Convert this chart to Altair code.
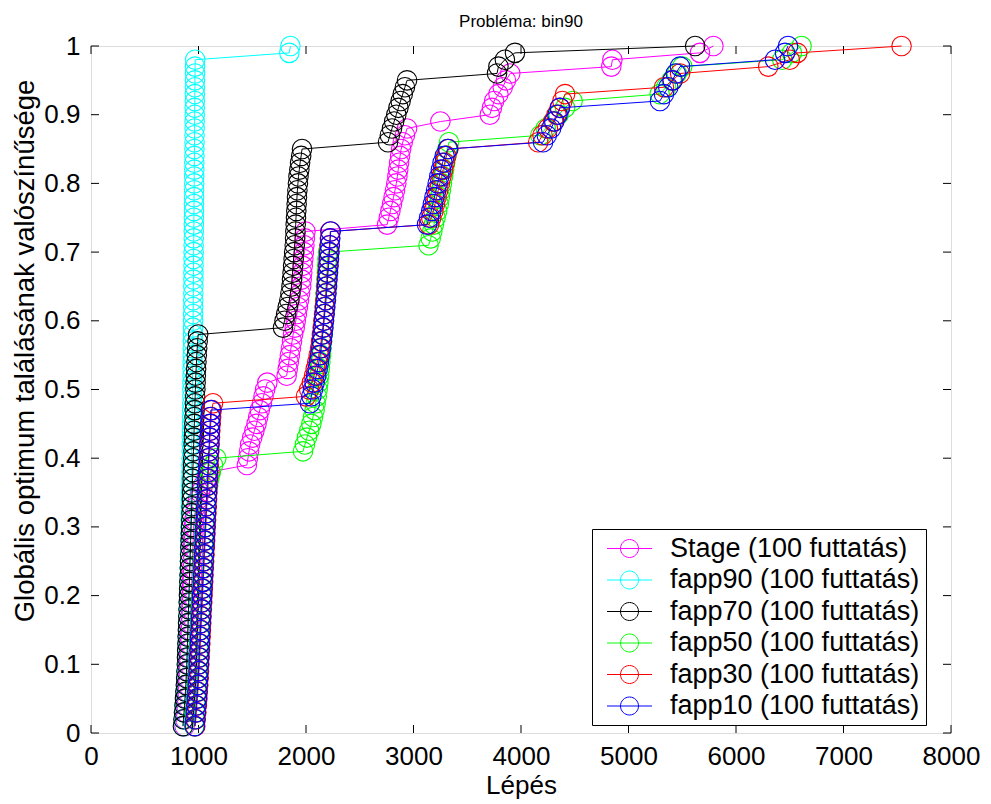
import altair as alt
import pandas as pd

SERIES = [
    "Stage (100 futtatás)",
    "fapp90 (100 futtatás)",
    "fapp70 (100 futtatás)",
    "fapp50 (100 futtatás)",
    "fapp30 (100 futtatás)",
    "fapp10 (100 futtatás)",
]
COLORS = ["#ff00ff", "#00ffff", "#000000", "#00ff00", "#ff0000", "#0000ff"]

# probability levels (100 runs -> 0.01 ... 1.00)
PROB = [round(k / 100, 2) for k in range(1, 101)]

STAGE = [
    870, 875, 880, 885, 890, 893, 896, 900, 903, 906,
    909, 912, 915, 918, 921, 924, 927, 930, 932, 934,
    936, 938, 940, 942, 944, 946, 948, 950, 952, 955,
    960, 968, 980, 995, 1015, 1040, 1075, 1110,
    1450, 1460, 1470, 1480, 1500, 1520, 1540, 1555, 1570, 1590, 1605, 1620, 1640,
    1820, 1830, 1840, 1850, 1860, 1870, 1880, 1895, 1905, 1915, 1925, 1935, 1945,
    1955, 1960, 1965, 1970, 1975, 1980, 1985, 1990, 1995,
    2755, 2770, 2785, 2800, 2815, 2828, 2840, 2850, 2858, 2866, 2875, 2885, 2900,
    2920, 2940,
    3250,
    3710, 3730, 3750, 3790, 3830, 3860, 3900,
    4840, 4850,
    5665, 5790,
]

FAPP90 = [
    860, 865, 870, 874, 878, 882, 885, 888, 891, 894,
    896, 898, 900, 902, 904, 906, 908, 910, 912, 914,
    915, 916, 918, 919, 920, 921, 922, 924, 925, 926,
    927, 928, 929, 930, 931, 932, 933, 934, 935, 936,
    937, 937, 938, 939, 940, 940, 941, 942, 943, 943,
    944, 945, 945, 946, 947, 947, 948, 949, 949, 950,
    950, 951, 951, 952, 952, 953, 953, 954, 954, 955,
    955, 956, 956, 957, 957, 958, 958, 959, 959, 960,
    960, 961, 961, 962, 962, 963, 963, 964, 964, 965,
    965, 966, 966, 967, 967, 968, 968, 969,
    1845, 1855,
]

FAPP70 = [
    855, 860, 865, 870, 874, 878, 882, 885, 888, 891,
    893, 895, 897, 899, 901, 903, 905, 907, 909, 911,
    913, 915, 917, 919, 921, 923, 925, 927, 929, 931,
    933, 935, 937, 939, 941, 943, 945, 947, 949, 951,
    953, 955, 957, 959, 961, 963, 965, 967, 969, 971,
    973, 975, 978, 981, 984, 988, 992, 997,
    1786, 1800, 1815, 1830, 1845, 1855, 1865, 1870, 1875, 1880,
    1885, 1890, 1895, 1898, 1901, 1904, 1907, 1910, 1913, 1916,
    1920, 1925, 1930, 1938, 1945, 1955, 1963,
    2763, 2780, 2800, 2820, 2840, 2860, 2880, 2900, 2920, 2940,
    3777, 3790, 3850, 3944,
    5620,
]

FAPP50 = [
    960, 965, 970, 975, 980, 984, 988, 992, 995, 998,
    1001, 1004, 1007, 1010, 1013, 1016, 1019, 1022, 1025, 1028,
    1031, 1034, 1037, 1040, 1043, 1046, 1049, 1052, 1055, 1058,
    1062, 1066, 1070, 1075, 1080, 1090, 1100, 1115, 1135, 1165,
    1972, 1990, 2009, 2030, 2050, 2065, 2080, 2090, 2100, 2108,
    2115, 2122, 2128, 2134, 2140, 2145, 2150, 2155, 2160, 2165,
    2170, 2174, 2178, 2182, 2186, 2190, 2194, 2197, 2200, 2205,
    3140, 3160, 3175, 3190, 3205, 3220, 3235, 3245, 3255, 3265,
    3275, 3285, 3295, 3305, 3315, 3330,
    4180, 4230, 4300, 4350, 4410, 4480,
    5290, 5350, 5400, 5450, 5500,
    6430, 6520, 6610,
]

FAPP30 = [
    970, 975, 980, 985, 990, 994, 998, 1002, 1005, 1008,
    1011, 1014, 1017, 1020, 1023, 1026, 1029, 1032, 1035, 1038,
    1041, 1044, 1047, 1050, 1053, 1056, 1059, 1062, 1065, 1068,
    1071, 1074, 1077, 1080, 1083, 1086, 1089, 1092, 1095, 1098,
    1101, 1104, 1107, 1110, 1114, 1118, 1124, 1135,
    2000, 2030, 2055, 2075, 2090, 2105, 2118, 2130, 2140, 2148,
    2155, 2162, 2168, 2174, 2180, 2185, 2190, 2195, 2200, 2205,
    2210, 2214, 2218, 2222, 2226,
    3145, 3165, 3185, 3200, 3215, 3230, 3245, 3260, 3275, 3290, 3305, 3325,
    4160, 4200, 4250, 4300, 4330, 4360, 4385, 4410,
    5330, 5410, 5480,
    6300, 6500, 6570, 7540,
]

FAPP10 = [
    965, 970, 975, 980, 985, 989, 993, 997, 1000, 1003,
    1006, 1009, 1012, 1015, 1018, 1021, 1024, 1027, 1030, 1033,
    1036, 1039, 1042, 1045, 1048, 1051, 1054, 1057, 1060, 1063,
    1066, 1069, 1072, 1075, 1078, 1081, 1084, 1087, 1090, 1093,
    1096, 1099, 1102, 1105, 1108, 1111, 1115,
    2037, 2050, 2065, 2080, 2095, 2108, 2120, 2130, 2140, 2148,
    2155, 2162, 2168, 2174, 2180, 2186, 2191, 2196, 2200, 2205,
    2210, 2214, 2218, 2222, 2226, 2230,
    3126, 3145, 3165, 3180, 3195, 3210, 3225, 3240, 3255, 3270, 3290, 3320,
    4205, 4240, 4280, 4310, 4340, 4363,
    5293, 5330, 5370, 5410, 5440, 5479,
    6363, 6456, 6484,
]

X_TICKS = [0, 1000, 2000, 3000, 4000, 5000, 6000, 7000, 8000]
Y_TICKS = [0, 0.1, 0.2, 0.3, 0.4, 0.5, 0.6, 0.7, 0.8, 0.9, 1]

TITLE = "Probléma: bin90"
X_TITLE = "Lépés"
Y_TITLE = "Globális optimum találásának valószínűsége"

FONT = "Liberation Sans"
W, H = 860, 687
TICK_LEN = 8

ALL_X = [STAGE, FAPP90, FAPP70, FAPP50, FAPP30, FAPP10]
rows = []
for name, xs in zip(SERIES, ALL_X):
    for k, (x, p) in enumerate(zip(xs, PROB)):
        rows.append({"series": name, "step": x, "p": p, "idx": k})
df = pd.DataFrame(rows)

xscale = alt.Scale(domain=[0, 8000], nice=False, zero=False)
yscale = alt.Scale(domain=[0, 1], nice=False, zero=False)

xenc = alt.X(
    "step:Q",
    scale=xscale,
    axis=alt.Axis(
        values=X_TICKS, format="d", title=X_TITLE, grid=False, domain=False,
        ticks=False, tickSize=0, labelPadding=10, labelFontSize=26,
        labelFont=FONT, labelColor="black", titleFont=FONT, titleFontSize=26,
        titleFontWeight="normal", titleColor="black", titleBaseline="alphabetic",
        titleY=60, titleX=W / 2, titleAlign="center", labelFlush=False,
    ),
)
yenc = alt.Y(
    "p:Q",
    scale=yscale,
    axis=alt.Axis(
        values=Y_TICKS, format="~g", title=Y_TITLE, grid=False, domain=False,
        ticks=False, tickSize=0, labelPadding=11, labelFontSize=26,
        labelFont=FONT, labelColor="black", titleFont=FONT, titleFontSize=27.5,
        titleFontWeight="normal", titleColor="black", titleBaseline="alphabetic",
        titleX=-58, titleY=H / 2 - 39, titleAlign="center", titleAngle=270,
        labelFlush=False,
    ),
)

SYMBOL = "M-2.5,0H2.5M1,0A1,1,0,1,1,-1,0A1,1,0,1,1,1,0"
legend = alt.Legend(
    title=None, orient="none", legendX=501, legendY=483,
    symbolType=SYMBOL, symbolSize=324, symbolStrokeWidth=1,
    symbolFillColor="transparent", symbolOffset=18,
    labelFont=FONT, labelFontSize=27, labelColor="black", labelOffset=27,
    labelLimit=400, rowPadding=3.5, padding=6,
    strokeColor="black", fillColor="white",
)
color = alt.Color("series:N", scale=alt.Scale(domain=SERIES, range=COLORS), legend=legend)

base = alt.Chart(df)
layers = []
for name in SERIES:
    sub = base.transform_filter(alt.datum.series == name)
    layers.append(
        sub.mark_line(strokeWidth=1).encode(
            x=xenc, y=yenc, color=color, order=alt.Order("idx:Q")
        )
    )
    layers.append(
        sub.mark_point(shape="circle", filled=False, size=380, strokeWidth=1.1, opacity=1).encode(
            x=xenc, y=yenc, color=color
        )
    )

xt = pd.DataFrame({"step": X_TICKS})
yt = pd.DataFrame({"p": Y_TICKS})
tick_style = dict(color="black", strokeWidth=1)
bottom_ticks = alt.Chart(xt).mark_rule(**tick_style).encode(
    x=xenc, y=alt.value(H), y2=alt.value(H - TICK_LEN))
top_ticks = alt.Chart(xt).mark_rule(**tick_style).encode(
    x=xenc, y=alt.value(0), y2=alt.value(TICK_LEN))
left_ticks = alt.Chart(yt).mark_rule(**tick_style).encode(
    y=yenc, x=alt.value(0), x2=alt.value(TICK_LEN))
right_ticks = alt.Chart(yt).mark_rule(**tick_style).encode(
    y=yenc, x=alt.value(W), x2=alt.value(W - TICK_LEN))

chart = alt.layer(
    bottom_ticks, top_ticks, left_ticks, right_ticks, *layers
).properties(
    width=W,
    height=H,
    title=alt.TitleParams(
        text=TITLE, font=FONT, fontSize=17, fontWeight="normal",
        color="black", anchor="middle", offset=2,
    ),
    padding={"left": 91, "top": 46, "right": 40, "bottom": 71},
    autosize=alt.AutoSizeParams(type="none"),
).configure_view(
    stroke="black", strokeWidth=1
).configure(background="white")

chart.save("out.html", embed_options={"renderer": "svg", "actions": False})
